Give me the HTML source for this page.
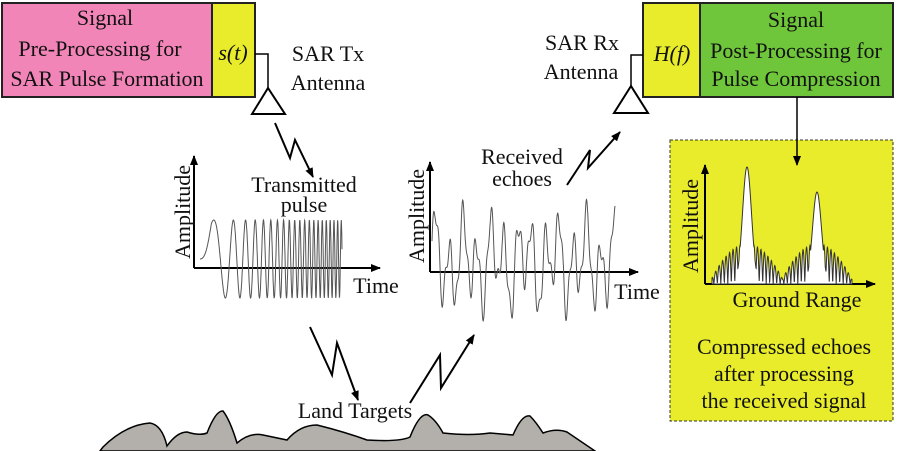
<!DOCTYPE html>
<html><head><meta charset="utf-8"><style>
html,body{margin:0;padding:0;background:#fff;}
svg{display:block;font-family:"Liberation Serif",serif;}
</style></head><body>
<svg id="s" width="900" height="451" viewBox="0 0 900 451" xmlns="http://www.w3.org/2000/svg">
<defs><marker id="ah" markerWidth="10" markerHeight="8" refX="9" refY="4" orient="auto" markerUnits="userSpaceOnUse"><path d="M0,0 L10,4 L0,8 Z" fill="#000"/></marker></defs>
<!-- result box -->
<rect x="670" y="140" width="223" height="281" fill="#e8ec2a" stroke="#333" stroke-width="1" stroke-dasharray="3,2"/>
<!-- left box -->
<rect x="2" y="3" width="210" height="94" fill="#f285b8" stroke="#222" stroke-width="2"/>
<rect x="212" y="3" width="43" height="94" fill="#e8ec2a" stroke="#222" stroke-width="2"/>
<g font-size="22" text-anchor="middle" fill="#111">
<text x="105" y="25">Signal</text>
<text x="100" y="56">Pre-Processing for</text>
<text x="107" y="86">SAR Pulse Formation</text>
<text x="233" y="60" font-style="italic">s(t)</text>
<text x="328" y="61">SAR Tx</text>
<text x="328" y="90">Antenna</text>
</g>
<polyline points="255,54 268,54 268,88" fill="none" stroke="#000" stroke-width="1.5"/>
<polygon points="268,88 252,114 285,114" fill="#fff" stroke="#000" stroke-width="2"/>
<!-- right box -->
<rect x="643" y="3" width="57" height="94" fill="#e8ec2a" stroke="#222" stroke-width="2"/>
<rect x="700" y="3" width="193" height="94" fill="#6fc63a" stroke="#222" stroke-width="2"/>
<g font-size="22" text-anchor="middle" fill="#111">
<text x="796" y="27">Signal</text>
<text x="796" y="58">Post-Processing for</text>
<text x="796" y="86">Pulse Compression</text>
<text x="672" y="61" font-style="italic">H(f)</text>
<text x="582" y="50">SAR Rx</text>
<text x="581" y="79">Antenna</text>
</g>
<polyline points="643,55 631,55 631,88" fill="none" stroke="#000" stroke-width="1.5"/>
<polygon points="631,86 614,113 648,113" fill="#fff" stroke="#000" stroke-width="2"/>
<line x1="797" y1="97" x2="797" y2="165" stroke="#000" stroke-width="1.5" marker-end="url(#ah)"/>
<!-- lightning -->
<g fill="none" stroke="#000" stroke-width="2">
<polyline points="275,123 290,158 295,140 313,177" marker-end="url(#ah)"/>
<polyline points="567,185 590,150 588,168 620,132" marker-end="url(#ah)"/>
<polyline points="310,327 332,375 337,343 358,400" marker-end="url(#ah)"/>
<polyline points="410,403 440,355 441,388 474,335" marker-end="url(#ah)"/>
</g>
<!-- axes -->
<g stroke="#000" stroke-width="2">
<line x1="194" y1="268" x2="194" y2="156" marker-end="url(#ah)"/>
<line x1="194" y1="268" x2="380" y2="268" marker-end="url(#ah)"/>
<line x1="430" y1="272" x2="430" y2="162" marker-end="url(#ah)"/>
<line x1="430" y1="272" x2="638" y2="272" marker-end="url(#ah)"/>
<line x1="705" y1="284" x2="705" y2="165" marker-end="url(#ah)"/>
<line x1="705" y1="284" x2="875" y2="284" marker-end="url(#ah)"/>
</g>
<path id="chirp" fill="none" stroke="#555" stroke-width="1"/>
<path id="echo" fill="none" stroke="#555" stroke-width="1"/>
<path id="comp" fill="#fff" stroke="#333" stroke-width="1"/>
<g font-size="22" fill="#111" text-anchor="middle">
<text transform="translate(190,212) rotate(-90)">Amplitude</text>
<text transform="translate(424,216) rotate(-90)">Amplitude</text>
<text transform="translate(698,226) rotate(-90)">Amplitude</text>
<text x="304" y="192">Transmitted</text>
<text x="304" y="212">pulse</text>
<text x="376" y="293">Time</text>
<text x="637" y="299">Time</text>
<text x="522" y="164">Received</text>
<text x="522" y="186">echoes</text>
<text x="797" y="307">Ground Range</text>
<text x="784" y="354">Compressed echoes</text>
<text x="784" y="381">after processing</text>
<text x="784" y="408">the received signal</text>
</g>
<path d="M100,451 L103,447 Q125,425 150,423 Q162,425 167,446 Q177,432 187,432 Q200,436 207,433 Q216,410 223,411 Q230,420 237,443 Q250,432 263,435 L287,440 Q300,425 317,425 Q345,432 367,440 Q400,442 410,437 Q420,412 428,415 Q436,420 443,433 Q470,436 490,433 L513,435 Q522,414 530,416 Q536,422 543,433 Q556,428 567,432 L595,451 Z" fill="#b3afaa" stroke="#000" stroke-width="1.5"/>
<text x="355" y="418" font-size="22" text-anchor="middle" fill="#111">Land Targets</text>
<script>
(function(){
var d="";
for(var i=0;i<=600;i++){var t=i/600;var x=200+142*t;var ph=2*Math.PI*(0.3*t+9*t*t);var amp=(t<0.08? t/0.08:1);var y=259-39*Math.sin(ph*2.2)*amp; d+=(i?"L":"M")+x.toFixed(1)+","+y.toFixed(1);}
document.getElementById("chirp").setAttribute("d",d);
d="";
for(var i=0;i<=900;i++){var t=i/900;var x=432+183*t;var y=262-34*Math.sin(t*2*Math.PI*13.3)-18*Math.sin(t*2*Math.PI*6.1+1)-12*Math.sin(t*2*Math.PI*31+0.5);d+=(i?"L":"M")+x.toFixed(1)+","+y.toFixed(1);}
document.getElementById("echo").setAttribute("d",d);
d="M712,284";
for(var i=0;i<=700;i++){var x=712+i*(852-712)/700;var y=284;
function pk(c,h,w,sw){var u=(x-c)/w;var main=h*Math.exp(-u*u*2);var env=Math.max(0,1-Math.pow((x-c)/sw,2));var side=env*40*Math.abs(Math.cos((x-c)*0.9));return Math.max(main,side);}
var a=Math.max(pk(747,117,9,38),pk(817,92,9,37));y=284-a;d+="L"+x.toFixed(1)+","+y.toFixed(1);}
d+="L852,284Z";
document.getElementById("comp").setAttribute("d",d);
})();
</script>
</svg>
</body></html>
